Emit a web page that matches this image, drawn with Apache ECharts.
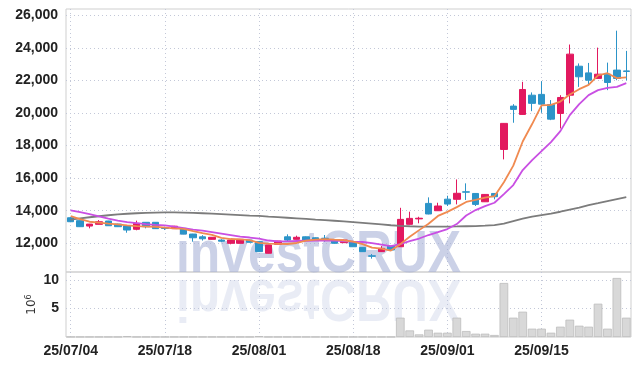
<!DOCTYPE html>
<html><head><meta charset="utf-8">
<script src="https://cdn.jsdelivr.net/npm/echarts@6/dist/echarts.min.js"></script>
<style>html,body{margin:0;padding:0;background:#fff}#c{width:639px;height:366px}</style>
</head><body><div id="c"></div>
<script>
const dates = ['25/07/04','25/07/07','25/07/08','25/07/09','25/07/10','25/07/11','25/07/14','25/07/15','25/07/16','25/07/17',
'25/07/18','25/07/21','25/07/22','25/07/23','25/07/24','25/07/25','25/07/28','25/07/29','25/07/30','25/07/31',
'25/08/01','25/08/04','25/08/05','25/08/06','25/08/07','25/08/08','25/08/11','25/08/12','25/08/13','25/08/14',
'25/08/18','25/08/19','25/08/20','25/08/21','25/08/22','25/08/25','25/08/26','25/08/27','25/08/28','25/08/29',
'25/09/01','25/09/02','25/09/03','25/09/04','25/09/05','25/09/08','25/09/09','25/09/10','25/09/11','25/09/12',
'25/09/15','25/09/16','25/09/17','25/09/18','25/09/19','25/09/22','25/09/23','25/09/24','25/09/25','25/09/26'];

const opens = [13570,13390,13060,13165,13370,13180,13080,12860,13290,13290,
12930,12900,12920,12570,12400,12245,12200,12000,12000,12200,
12100,11390,11940,12400,12245,12400,12340,12310,12200,12040,
12100,11750,11230,11490,11830,11790,13165,13500,14450,14000,
14710,14700,15160,15060,14550,15060,17760,20420,19910,21090,
21140,20520,19970,21090,22870,22460,22120,22380,22630,22580];

const closes = [13325,13020,13180,13325,13080,13020,12815,13226,13020,12900,
12910,13050,12570,12340,12280,12370,12130,12200,12245,12060,
11490,11900,12140,12200,12370,12200,12245,12300,12000,12200,
11790,11490,11210,11690,11590,13470,13530,13540,13800,14290,
14410,15070,15140,14390,15000,14860,19360,20220,21440,20590,
20540,19620,20950,23610,22220,22010,22380,21870,22120,22550];

const lows = [13300,13000,12920,13160,13070,13000,12650,12800,12920,12880,
12820,12890,12560,12100,12170,12230,12080,11940,11990,12050,
11480,11380,11930,12100,12240,12190,12230,12100,11990,12030,
11780,11480,11060,11480,11580,11780,13150,13230,13780,13990,
14290,14390,14660,14290,14540,14700,17150,19400,19900,20110,
20010,19560,19050,20590,21600,21770,22110,21400,22010,22000];

const highs = [13620,13400,13190,13430,13380,13200,13090,13390,13300,13300,
13020,13070,12930,12580,12500,12380,12250,12220,12260,12210,
12110,11910,12150,12550,12470,12420,12360,12510,12210,12220,
12110,11760,11340,11830,11840,14180,13940,13630,14820,14490,
14920,15920,15680,15080,15020,15080,19380,20540,21910,21260,
21950,20790,21090,24200,23040,23070,24010,23090,25050,23810];

const ma5 = [13674,13490,13325,13275,13214,13165,13104,13061,13030,13018,
12969,12920,12890,12754,12630,12522,12338,12264,12245,12201,
12025,11979,11967,11958,12020,12162,12231,12263,12223,12189,
12107,11956,11738,11676,11554,11950,12400,12810,13200,13680,
13930,14221,14541,14659,14801,14891,15750,16766,18250,19320,
20470,20500,20700,21130,21460,21720,22300,22440,22140,22190];

const ma20 = [14024,13919,13797,13656,13521,13398,13306,13245,13183,13134,
13104,13030,12938,12846,12785,12693,12601,12509,12417,12356,
12294,12172,12123,12123,12141,12159,12172,12184,12172,12141,
12098,12080,12018,11926,11834,11957,12141,12294,12509,12693,
12877,13183,13705,14042,14287,14490,15023,15575,16495,17108,
17660,18212,18886,19867,20542,21094,21401,21541,21603,21830];

const ma60 = [13459,13533,13600,13662,13723,13772,13815,13846,13870,13889,
13901,13895,13883,13864,13846,13827,13797,13766,13735,13705,
13680,13643,13607,13570,13533,13496,13459,13423,13386,13349,
13306,13257,13208,13159,13110,13073,13049,13030,13024,13024,
13030,13036,13049,13061,13085,13122,13214,13367,13521,13643,
13735,13827,13938,14073,14195,14349,14471,14594,14717,14839];

const volumes = [0.03,0.03,0.03,0.03,0.03,0.03,0.15,0.03,0.03,0.03,
0.03,0.03,0.03,0.03,0.03,0.03,0.03,0.03,0.03,0.03,
0.15,0.03,0.03,0.03,0.03,0.03,0.03,0.03,0.03,0.03,
0.03,0.03,0.03,0.03,0.03,3.39,1.16,0.46,1.28,0.75,
0.75,3.39,1.05,0.58,0.58,0.35,9.47,3.39,4.44,1.46,
1.46,0.75,1.81,3.04,1.98,1.81,5.84,1.46,10.35,3.39];

const candleData = dates.map((d, i) => [opens[i], closes[i], lows[i], highs[i]]);

const gridLine = {type: [1, 3], color: '#c3c8d8', width: 1};
const labelFont = {fontFamily: '"Liberation Sans Narrow", "Liberation Sans", sans-serif', fontWeight: 'bold', fontSize: 14, color: '#222'};
const wmFont = 'bold 60px "Liberation Sans", "DejaVu Sans", sans-serif';

const chart = echarts.init(document.getElementById('c'), null, {renderer: 'canvas'});
chart.setOption({
  animation: false,
  backgroundColor: '#fff',
  grid: [
    {left: 66, right: 8, top: 9, height: 263, show: true, borderColor: '#cfcfcf', borderWidth: 1},
    {left: 66, right: 8, top: 272, height: 65, show: true, borderColor: '#cfcfcf', borderWidth: 1}
  ],
  graphic: [
    {type: 'text', x: 176, y: 255, scaleX: 0.83, z: 1, silent: true,
     style: {text: 'investCRUX', font: wmFont, fill: 'rgba(165,176,214,0.58)', verticalAlign: 'middle'}},
    {type: 'text', x: 176, y: 297, scaleX: 0.83, scaleY: -1, z: 1, silent: true,
     style: {text: 'investCRUX', font: wmFont, fill: 'rgba(188,196,224,0.32)', verticalAlign: 'middle'}}
  ],
  xAxis: [
    {type: 'category', gridIndex: 0, data: dates, boundaryGap: true,
     axisLine: {show: false}, axisTick: {show: false},
     axisLabel: {show: false, interval: 9},
     splitLine: {show: true, interval: 9, alignWithLabel: true, lineStyle: gridLine}},
    {type: 'category', gridIndex: 1, data: dates, boundaryGap: true,
     axisLine: {show: false}, axisTick: {show: false},
     axisLabel: Object.assign({interval: 9, margin: 7}, labelFont),
     splitLine: {show: true, interval: 9, alignWithLabel: true, lineStyle: gridLine}}
  ],
  yAxis: [
    {type: 'value', gridIndex: 0, min: 10240, max: 26380, splitNumber: 8,
     axisLine: {show: false}, axisTick: {show: false},
     axisLabel: Object.assign({showMinLabel: false, showMaxLabel: false, margin: 8,
       formatter: v => v.toLocaleString('en-US')}, labelFont),
     splitLine: {show: true, showMinLine: false, showMaxLine: false, lineStyle: gridLine}},
    {type: 'value', gridIndex: 1, min: 0, max: 11.4, interval: 5,
     name: '10{s|6}', nameLocation: 'middle', nameRotate: 90, nameGap: 27, nameMoveOverlap: false,
     nameTextStyle: {fontFamily: '"DejaVu Sans", sans-serif', fontSize: 12, color: '#333',
       rich: {s: {fontSize: 8, verticalAlign: 'top', padding: [0, 0, 6, 0]}}},
     axisLine: {show: false}, axisTick: {show: false},
     axisLabel: Object.assign({showMinLabel: false, showMaxLabel: false, margin: 7}, labelFont),
     splitLine: {show: true, showMinLine: false, showMaxLine: false, lineStyle: gridLine}}
  ],
  series: [
    {type: 'candlestick', xAxisIndex: 0, yAxisIndex: 0, data: candleData, barWidth: '74%',
     itemStyle: {color: '#e2195f', color0: '#2c94c8', borderColor: '#e2195f', borderColor0: '#2c94c8', borderWidth: 1}},
    {type: 'line', xAxisIndex: 0, yAxisIndex: 0, data: ma60, showSymbol: false, z: 3,
     lineStyle: {color: '#7c7c7c', width: 1.8}},
    {type: 'line', xAxisIndex: 0, yAxisIndex: 0, data: ma20, showSymbol: false, z: 3,
     lineStyle: {color: '#c94fe3', width: 1.8}},
    {type: 'line', xAxisIndex: 0, yAxisIndex: 0, data: ma5, showSymbol: false, z: 3,
     lineStyle: {color: '#f08a50', width: 1.8}},
    {type: 'bar', xAxisIndex: 1, yAxisIndex: 1, data: volumes, barCategoryGap: '8%',
     itemStyle: {color: '#d8d8d8', borderColor: '#bdbdbd', borderWidth: 0.8}}
  ]
});
</script>
</body></html>
